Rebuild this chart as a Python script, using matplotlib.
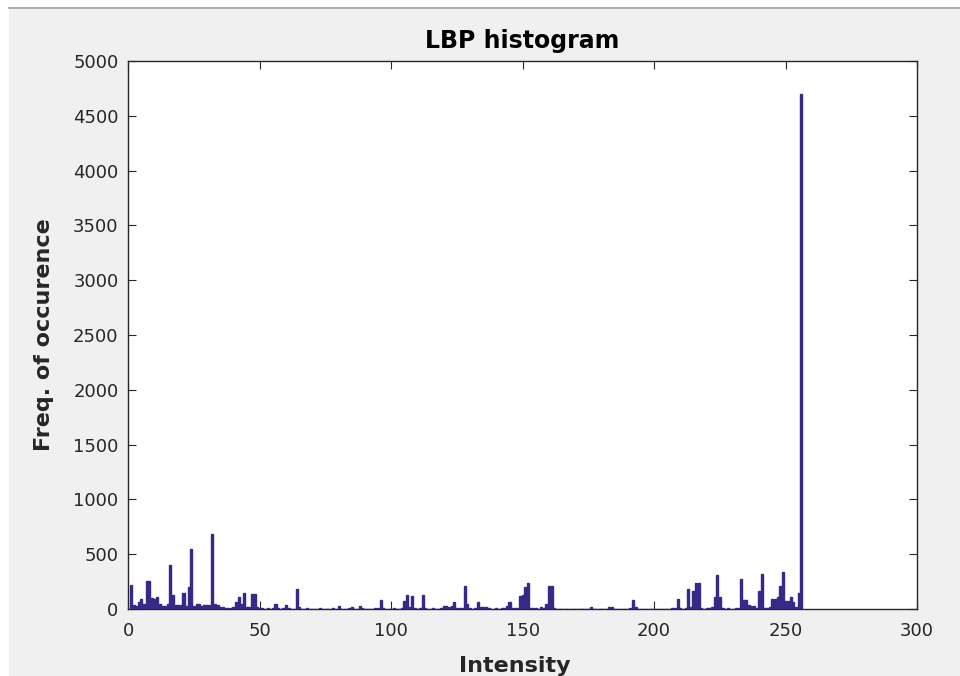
import matplotlib
matplotlib.use("Agg")
import matplotlib.pyplot as plt
import numpy as np
from matplotlib.patches import Rectangle
from matplotlib.lines import Line2D

# LBP code counts, bins 1..256
counts = [
    215, 40, 30, 60, 90, 45, 260, 260, 100, 88, 110, 45, 30, 30, 50, 405,
    125, 40, 40, 40, 145, 30, 200, 550, 30, 45, 45, 30, 40, 40, 35, 685,
    45, 40, 20, 20, 12, 10, 12, 15, 60, 105, 45, 143, 20, 20, 140, 140,
    15, 8, 5, 4, 6, 3, 5, 50, 5, 4, 6, 37, 5, 4, 3, 183,
    20, 4, 3, 5, 2, 4, 3, 2, 5, 3, 2, 4, 3, 5, 4, 30,
    3, 4, 2, 5, 15, 4, 3, 30, 5, 3, 2, 4, 3, 5, 6, 85,
    10, 4, 3, 2, 5, 4, 3, 10, 75, 130, 20, 118, 5, 4, 6, 130,
    6, 4, 3, 5, 4, 3, 6, 30, 30, 15, 25, 60, 6, 5, 8, 207,
    45, 6, 4, 5, 60, 15, 15, 15, 5, 4, 3, 5, 4, 6, 8, 30,
    60, 6, 8, 10, 120, 125, 200, 238, 8, 6, 5, 4, 15, 10, 45, 207,
    207, 6, 4, 3, 2, 4, 3, 2, 3, 4, 2, 3, 2, 4, 3, 20,
    3, 2, 4, 3, 2, 3, 20, 20, 3, 2, 4, 3, 2, 3, 5, 80,
    20, 4, 3, 2, 4, 3, 2, 3, 4, 2, 3, 2, 4, 3, 5, 8,
    88, 5, 4, 6, 180, 20, 165, 240, 240, 6, 4, 5, 8, 20, 105, 310,
    105, 6, 4, 5, 3, 4, 6, 8, 270, 78, 78, 40, 25, 25, 10, 165,
    315, 10, 10, 20, 95, 95, 113, 210, 335, 75, 75, 105, 60, 15, 150, 4695,
]
bins = np.arange(1, len(counts) + 1)

xticks = [0, 50, 100, 150, 200, 250, 300]
yticks = [0, 500, 1000, 1500, 2000, 2500, 3000, 3500, 4000, 4500, 5000]

bar_col = "#352a87"
txt_col = "#262626"

fig = plt.figure(figsize=(9.6, 6.76), dpi=100, facecolor="#f0f0f0")
ax = fig.add_axes([128.3 / 960, 67 / 676, 788.7 / 960, 548 / 676])

# bars above the spine so their bottoms make the blue baseline
ax.bar(bins, counts, width=0.8, color=bar_col, edgecolor=bar_col, linewidth=1.0,
       zorder=3)

ax.set_xlim(0, 300)
ax.set_ylim(0, 5000)
ax.set_xticks(xticks)
ax.set_yticks(yticks)
ax.tick_params(direction="in", top=True, right=True, length=5.5, width=0.8,
               labelsize=13, colors=txt_col)
ax.tick_params(axis="x", pad=9)
ax.tick_params(axis="y", pad=7)
for s in ax.spines.values():
    s.set_color(txt_col)
    s.set_linewidth(1.0)

ax.set_title("LBP histogram", fontsize=17, fontweight="bold", color="black", pad=9.5)
ax.set_xlabel("Intensity", fontsize=16, fontweight="bold", color=txt_col)
ax.set_ylabel("Freq. of occurence", fontsize=16, fontweight="bold", color=txt_col)
ax.xaxis.set_label_coords(0.49, -0.085)
ax.yaxis.set_label_coords(-0.094, 0.5)

# window edge bits of the screenshot
fig.add_artist(Rectangle((0, 1 - 7 / 676), 1, 7 / 676, transform=fig.transFigure,
                         facecolor="white", edgecolor="none"))
fig.add_artist(Rectangle((0, 0), 9 / 960, 1, transform=fig.transFigure,
                         facecolor="white", edgecolor="none"))
fig.add_artist(Line2D([9 / 960, 1], [1 - 8 / 676, 1 - 8 / 676], transform=fig.transFigure,
                      color="#a0a0a0", linewidth=1.2))

fig.savefig("out.png", dpi=100, facecolor=fig.get_facecolor())
